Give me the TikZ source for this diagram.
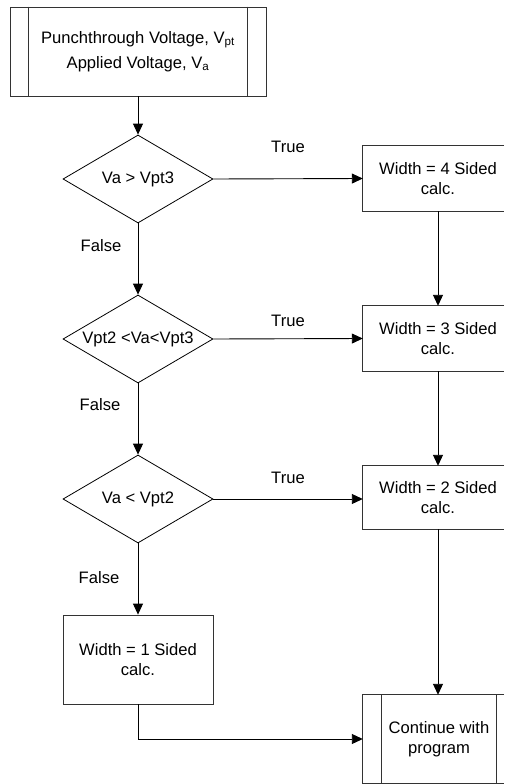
\documentclass[tikz,border=0pt]{standalone}
\usepackage{fontspec}
\setmainfont{Liberation Sans}
\usetikzlibrary{shapes.geometric,arrows.meta,calc}
\begin{document}
\begin{tikzpicture}[x=1pt,y=-1pt,
  txt/.style={font=\fontsize{16.6}{20}\selectfont},
  box/.style={txt, draw=black!80, line width=0.8pt, rectangle, minimum width=150pt, inner sep=0pt, align=center},
  openbox/.style={txt, rectangle, minimum width=150pt, inner sep=0pt, align=center},
  boxline/.style={draw=black!80, line width=0.8pt},
  dia/.style={txt, draw, diamond, minimum width=150pt, minimum height=88pt, inner sep=0pt, line width=0.8pt},
  conn/.style={line width=0.9pt, -{Triangle[length=11pt,width=10pt]}},
  lbl/.style={txt, inner sep=0pt}]
\useasboundingbox (0,0) rectangle (504,784);
\coordinate (edge) at (504,0);
% nodes
\node[box, minimum width=256pt, minimum height=89pt, font=\fontsize{16.6}{25}\selectfont] (top) at (138,51.5)
  {Punchthrough Voltage, V\textsubscript{pt}\\Applied Voltage, V\textsubscript{a}};
\draw[boxline] ($(top.north west)+(19,0)$) -- ($(top.south west)+(19,0)$);
\draw[boxline] ($(top.north east)+(-19,0)$) -- ($(top.south east)+(-19,0)$);

\node[dia] (d1) at (138,179) {\makebox[0pt]{Va > Vpt3}};
\node[dia] (d2) at (138,339) {\makebox[0pt]{Vpt2 <Va<Vpt3}};
\node[dia] (d3) at (138,499) {\makebox[0pt]{Va < Vpt2}};

\node[openbox, minimum height=65pt] (b4) at (438,178.5) {Width = 4 Sided\\calc.};
\node[openbox, minimum height=65pt] (b3) at (438,338.5) {Width = 3 Sided\\calc.};
\node[openbox, minimum height=63pt] (b2) at (438,497.5) {Width = 2 Sided\\calc.};
\foreach \b in {b4,b3,b2}
  \draw[boxline] (\b.north -| edge) -- (\b.north west) -- (\b.south west) -- (\b.south -| edge);
\node[box, minimum height=89pt] (b1) at (138,659.5) {Width = 1 Sided\\calc.};

\node[openbox, minimum width=152pt, minimum height=88pt] (cont) at (439,739) {Continue with\\program};
\draw[boxline] (cont.north -| edge) -- (cont.north west) -- (cont.south west) -- (cont.south -| edge);
\draw[boxline] ($(cont.north west)+(19,0)$) -- ($(cont.south west)+(19,0)$);
\draw[boxline] ($(cont.north east)+(-19,0)$) -- ($(cont.south east)+(-19,0)$);

% labels
\node[lbl] (t1) at (288,147) {True};
\node[lbl] (t2) at (288,321) {True};
\node[lbl] (t3) at (288,478) {True};
\node[lbl] (f1) at (101,246) {False};
\node[lbl] (f2) at (100,405) {False};
\node[lbl] (f3) at (99,578) {False};

% connectors
\draw[conn] (top.south) -- (d1.north);
\draw[conn] (d1.east) -- (b4.west);
\draw[conn] (d1.south) -- (d2.north);
\draw[conn] (d2.east) -- (b3.west);
\draw[conn] (d2.south) -- (d3.north);
\draw[conn] (d3.east) -- (d3.east -| b2.west);
\draw[conn] (d3.south) -- (b1.north);
\draw[conn] (b4.south) -- (b3.north);
\draw[conn] (b3.south) -- (b2.north);
\draw[conn] (b2.south) -- (b2.south |- cont.north);
\draw[conn] (b1.south) |- (cont.west);
\end{tikzpicture}
\end{document}
